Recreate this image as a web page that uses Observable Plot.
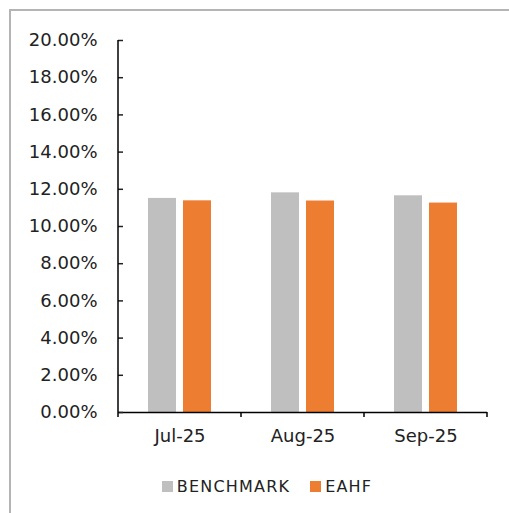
<!DOCTYPE html>
<html>
<head>
<meta charset="utf-8">
<script src="https://cdn.jsdelivr.net/npm/d3@7"></script>
<script src="https://cdn.jsdelivr.net/npm/@observablehq/plot@0.6"></script>
<style>
  html, body { margin: 0; padding: 0; background: #fff; }
  #wrap { position: relative; width: 509px; height: 513px; overflow: hidden; font-family: "DejaVu Sans", sans-serif; }
  #border { position: absolute; left: 9px; top: 9px; width: 510px; height: 510px;
            border-top: 2px solid #b4b4b4; border-left: 2px solid #b4b4b4; }
  #chart { position: absolute; left: 0; top: 0; }
  #legend { position: absolute; left: 25px; width: 484px; top: 477px; display: flex; justify-content: center;
            align-items: center; font-size: 16px; letter-spacing: 1.2px; color: #222; }
  .item { display: flex; align-items: center; margin: 0 10px; }
  .sw { width: 11px; height: 11px; margin-right: 4px; }
</style>
</head>
<body>
<div id="wrap">
  <div id="border"></div>
  <div id="chart"></div>
  <div id="legend"></div>
</div>
<script>
const months = ["Jul-25", "Aug-25", "Sep-25"];
const series = ["BENCHMARK", "EAHF"];
const benchmark = [11.51, 11.81, 11.65];
const eahf = [11.38, 11.37, 11.26];
const colors = ["#bfbfbf", "#ed7d31"];
const yTicks = [0, 2, 4, 6, 8, 10, 12, 14, 16, 18, 20];

const data = [];
months.forEach((m, i) => {
  data.push({month: m, series: series[0], value: benchmark[i]});
  data.push({month: m, series: series[1], value: eahf[i]});
});

const W = 509, H = 460;
const chart = Plot.plot({
  width: W,
  height: H,
  marginLeft: 118,
  marginRight: 22,
  marginTop: 40,
  marginBottom: 48,
  style: {fontFamily: "DejaVu Sans, sans-serif", fontSize: "18px", color: "#222", background: "transparent"},
  fx: {domain: months, padding: 0, label: null},
  x: {domain: series, paddingInner: 0.2, paddingOuter: 0.857, axis: null},
  y: {domain: [0, 20], label: null},
  color: {domain: series, range: colors},
  marks: [
    Plot.barY(data, {fx: "month", x: "series", y: "value", fill: "series", inset: 0}),
    Plot.ruleY([0], {stroke: "#000", strokeWidth: 1.5}),
    Plot.axisY({ticks: yTicks, tickSize: 0, tickPadding: 21, tickFormat: d => d.toFixed(2) + "%", label: null, fontSize: 18}),
    Plot.axisY({ticks: yTicks, tickSize: 5, dx: 5, tickFormat: () => "", label: null, strokeWidth: 1.5}),
    Plot.axisFx({anchor: "bottom", tickSize: 0, tickPadding: 17, label: null, fontSize: 18})
  ]
});
document.getElementById("chart").appendChild(chart);

// Excel-style axis line and category-boundary ticks, positioned with Plot's own scales
const fx = chart.scale("fx");
const y = chart.scale("y");
const r0 = fx.range[0], r1 = fx.range[1];
const step = (r1 - r0) / months.length;
const y0 = y.apply ? y.apply(0) : H - 48;
const yTop = y.apply ? y.apply(20) : 40;
const svg = d3.select(chart);
svg.append("line")
  .attr("x1", r0).attr("x2", r0).attr("y1", yTop).attr("y2", y0)
  .attr("stroke", "#000").attr("stroke-width", 1.5);
d3.range(months.length + 1).forEach(i => {
  const x = r0 + i * step;
  svg.append("line")
    .attr("x1", x).attr("x2", x).attr("y1", y0).attr("y2", y0 + 5)
    .attr("stroke", "#000").attr("stroke-width", 1.5);
});

// Legend
const leg = document.getElementById("legend");
series.forEach((s, i) => {
  const item = document.createElement("div");
  item.className = "item";
  const sw = document.createElement("div");
  sw.className = "sw";
  sw.style.background = colors[i];
  const t = document.createElement("span");
  t.textContent = s;
  item.appendChild(sw);
  item.appendChild(t);
  leg.appendChild(item);
});
</script>
</body>
</html>
